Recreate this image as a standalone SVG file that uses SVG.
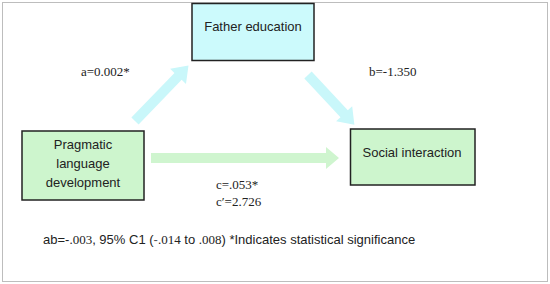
<svg xmlns="http://www.w3.org/2000/svg" width="550" height="284" viewBox="0 0 550 284">
<style>
.box{stroke:#222;stroke-width:1.5}
.sans{font-family:"Liberation Sans","Open Sans",Arial,sans-serif;font-size:13px;fill:#222}
.serif{font-family:"Liberation Serif","Times New Roman",serif;font-size:13px;fill:#222}
.cyan{fill:#c9f7fa}
.green{fill:#cff5cf}
</style>
<rect x="0" y="0" width="550" height="284" fill="#fff"/>
<rect x="2.5" y="2.5" width="545" height="279" fill="none" stroke="#bdbdbd" stroke-width="1"/>
<g id="connectors">
  <path class="cyan" transform="translate(135,121) rotate(-46)" d="M0,-5 L62,-5 L62,-11 L77,0 L62,11 L62,5 L0,5 Z"/>
  <path class="cyan" transform="translate(308,75) rotate(47)" d="M0,-5 L53,-5 L53,-11 L68,0 L53,11 L53,5 L0,5 Z"/>
  <path class="green" d="M151,153 L326,153 L326,147 L339,158 L326,169 L326,163 L151,163 Z"/>
</g>
<g id="father">
  <rect class="box" x="192" y="3.5" width="122" height="57" fill="#ccfafc"/>
  <text class="sans" x="253" y="31" text-anchor="middle">Father education</text>
</g>
<g id="pragmatic">
  <rect class="box" x="22" y="131" width="122" height="69" fill="#cdf5cd"/>
  <text class="sans" x="83" y="149" text-anchor="middle">Pragmatic</text>
  <text class="sans" x="83" y="168" text-anchor="middle">language</text>
  <text class="sans" x="83" y="187" text-anchor="middle">development</text>
</g>
<g id="social">
  <rect class="box" x="350.5" y="129" width="124.5" height="56" fill="#cdf5cd"/>
  <text class="sans" x="412" y="157" text-anchor="middle">Social interaction</text>
</g>
<g id="labels">
  <text class="serif" x="81" y="76">a=0.002*</text>
  <text class="serif" x="369" y="76">b=-1.350</text>
  <text class="serif" x="216" y="189">c=.053*</text>
  <text class="serif" x="216" y="206">c′=2.726</text>
  <text class="sans" x="43" y="244"><tspan>ab=-</tspan><tspan class="serif">.003</tspan><tspan>, 95% C1 (</tspan><tspan fill="#555">-</tspan><tspan class="serif" fill="#555">.014</tspan><tspan> to </tspan><tspan class="serif" fill="#555">.008</tspan><tspan>) *Indicates statistical significance</tspan></text>
</g>
</svg>
